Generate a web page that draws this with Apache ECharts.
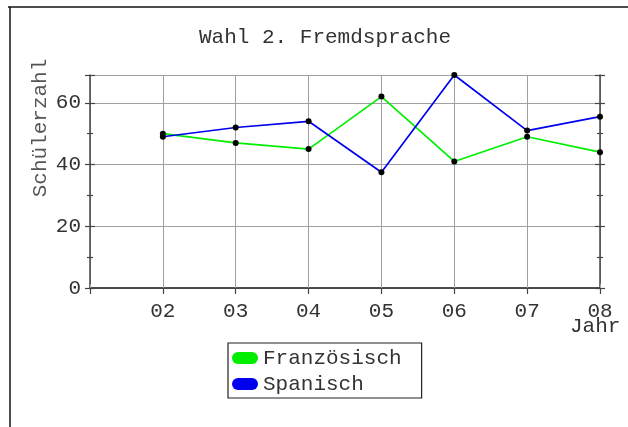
<!DOCTYPE html>
<html>
<head>
<meta charset="utf-8">
<script src="https://cdn.jsdelivr.net/npm/echarts@6/dist/echarts.min.js"></script>
<style>
  html, body { margin: 0; padding: 0; background: #fff; }
  #chart { width: 628px; height: 427px; }
</style>
</head>
<body>
<div id="chart"></div>
<script>
// Jahre (x) und Schülerzahlen
const years = [2, 3, 4, 5, 6, 7, 8];
const franzoesisch = [50, 47, 45, 62, 41, 49, 44];
const spanisch = [49, 52, 54, 37.5, 69, 51, 55.5];
const seriesNames = ["Französisch", "Spanisch"];
const seriesColors = ["#00ee00", "#0000ee"];

const FONT = "Liberation Mono";
const AXIS = "#444";
const GRID = "#a0a0a0";

const chart = echarts.init(document.getElementById("chart"));

const yBase = {
  type: "value",
  min: 0,
  max: 69,
  interval: 20,
  axisLabel: { show: false },
  splitLine: { show: false },
  axisLine: { show: false },
  axisTick: { show: true, length: 5, lineStyle: { color: AXIS, width: 1.2 } },
  minorTick: { show: true, splitNumber: 2, length: 3, lineStyle: { color: AXIS, width: 1.2 } },
};

chart.setOption({
  animation: false,
  title: {
    text: "Wahl 2. Fremdsprache",
    left: 194,
    top: 22,
    textStyle: { fontFamily: FONT, fontSize: 21, fontWeight: "normal", color: "#333" },
  },
  legend: {
    orient: "vertical",
    left: 228,
    top: 343,
    padding: [4, 20, 3, 4],
    itemGap: 4,
    itemWidth: 26,
    itemHeight: 13,
    itemTextGap: 5,
    borderColor: "#222",
    borderWidth: 1.2,
    icon: "path://M6,0 L20,0 A6,6 0 0 1 20,12 L6,12 A6,6 0 0 1 6,0 Z",
    textStyle: { fontFamily: FONT, fontSize: 21, color: "#333", lineHeight: 22 },
    data: seriesNames.map((n, i) => ({ name: n, itemStyle: { color: seriesColors[i] } })),
  },
  grid: { left: 90, right: 28, top: 75, bottom: 139 },
  xAxis: [
    {
      type: "value",
      min: 1,
      max: 8,
      interval: 1,
      position: "bottom",
      axisLine: { show: true, lineStyle: { color: AXIS, width: 1.5 } },
      axisTick: { show: true, length: 6, lineStyle: { color: AXIS, width: 1.2 } },
      splitLine: { show: true, lineStyle: { color: GRID, width: 1 } },
      axisLabel: {
        margin: 13,
        fontFamily: FONT,
        fontSize: 21,
        color: "#333",
        formatter: (v) => (v === 1 ? "" : "0" + v),
      },
    },
    {
      type: "value",
      min: 1,
      max: 8,
      interval: 1,
      position: "top",
      axisLine: { show: true, lineStyle: { color: AXIS, width: 1.5 } },
      axisTick: { show: true, length: 4, lineStyle: { color: GRID, width: 1 } },
      splitLine: { show: false },
      axisLabel: { show: false },
    },
  ],
  yAxis: [
    Object.assign({}, yBase, {
      position: "left",
      axisLine: { show: true, lineStyle: { color: AXIS, width: 1.5 } },
      splitLine: { show: true, lineStyle: { color: GRID, width: 1 } },
      axisLabel: {
        show: true,
        margin: 9,
        fontFamily: FONT,
        fontSize: 21,
        color: "#333",
        formatter: (v) => (v % 20 === 0 ? String(v) : ""),
      },
    }),
    Object.assign({}, yBase, { position: "left", axisTick: Object.assign({}, yBase.axisTick, { inside: true }) }),
    Object.assign({}, yBase, {
      position: "right",
      axisLine: { show: true, lineStyle: { color: AXIS, width: 1.5 } },
    }),
    Object.assign({}, yBase, { position: "right", axisTick: Object.assign({}, yBase.axisTick, { inside: true }) }),
  ],
  series: [franzoesisch, spanisch].map((vals, i) => ({
    name: seriesNames[i],
    type: "line",
    xAxisIndex: 0,
    yAxisIndex: 0,
    data: years.map((y, k) => [y, vals[k]]),
    symbol: "circle",
    symbolSize: 6,
    lineStyle: { color: seriesColors[i], width: 1.7 },
    itemStyle: { color: "#000" },
    z: 3 + i,
  })),
  graphic: [
    {
      type: "text",
      x: 40,
      y: 128,
      rotation: Math.PI / 2,
      style: {
        text: "Schülerzahl",
        fontFamily: FONT,
        fontSize: 21,
        fill: "#555",
        align: "center",
        verticalAlign: "middle",
      },
    },
    {
      type: "text",
      left: 570,
      top: 316,
      style: { text: "Jahr", fontFamily: FONT, fontSize: 21, fill: "#333" },
    },
    { type: "line", shape: { x1: 8, y1: 7, x2: 628, y2: 7 }, style: { stroke: "#111", lineWidth: 1.5 } },
    { type: "line", shape: { x1: 10, y1: 7, x2: 10, y2: 427 }, style: { stroke: "#111", lineWidth: 1.5 } },
  ],
});
</script>
</body>
</html>
